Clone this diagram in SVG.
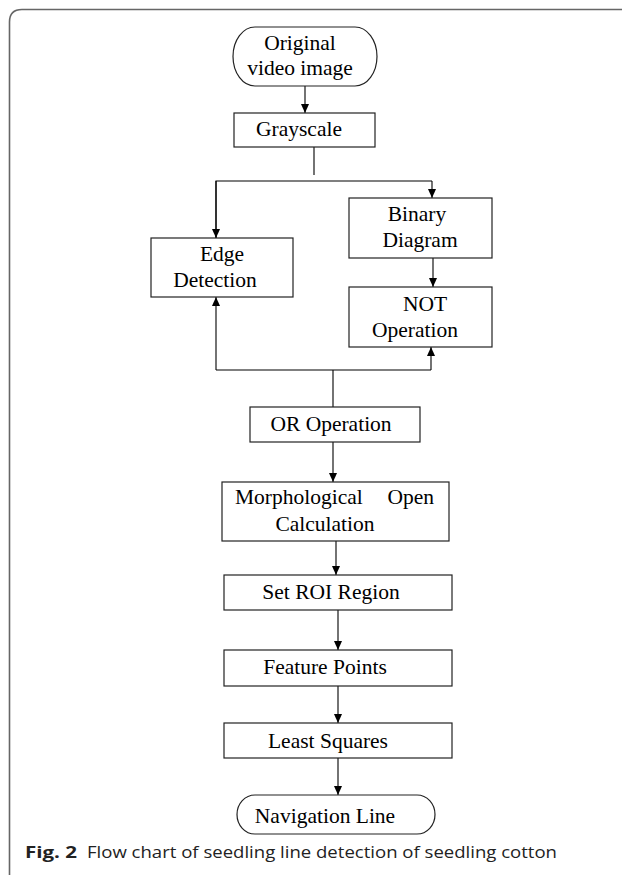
<svg xmlns="http://www.w3.org/2000/svg" width="622" height="875" viewBox="0 0 622 875">
<defs>
<marker id="ah" markerUnits="userSpaceOnUse" markerWidth="10" markerHeight="10" refX="9" refY="4" orient="auto">
<path d="M0,0 L9,4 L0,8 Z" fill="#000"/>
</marker>
<style>
.box{fill:#fff;stroke:#222;stroke-width:1.2}
.t{font-family:"Liberation Serif","Times New Roman",serif;font-size:21.5px;fill:#000;text-anchor:middle}
.c{fill:none;stroke:#000;stroke-width:1.1}
.a{marker-end:url(#ah)}
</style>
</defs>
<rect width="622" height="875" fill="#fff"/>
<path d="M622,9.5 L22,9.5 Q9.5,9.5 9.5,22 L9.5,875" fill="none" stroke="#666" stroke-width="1.6"/>

<g id="connectors">
<line class="c a" x1="305" y1="86" x2="305" y2="113"/>
<line class="c" x1="314" y1="147" x2="314" y2="175"/>
<polyline class="c" points="216,238 216,181 432,181"/>
<line class="c a" x1="216" y1="181" x2="216" y2="238"/>
<line class="c a" x1="432" y1="181" x2="432" y2="198"/>
<line class="c a" x1="433" y1="258" x2="433" y2="287"/>
<polyline class="c" points="333,407 333,370"/>
<line class="c" x1="216" y1="370" x2="431" y2="370"/>
<line class="c a" x1="216" y1="370" x2="216" y2="297"/>
<line class="c a" x1="431" y1="370" x2="431" y2="347"/>
<line class="c a" x1="333" y1="442" x2="333" y2="482"/>
<line class="c a" x1="336" y1="541" x2="336" y2="575"/>
<line class="c a" x1="338" y1="610" x2="338" y2="650"/>
<line class="c a" x1="338" y1="686" x2="338" y2="723"/>
<line class="c a" x1="338" y1="758" x2="338" y2="795"/>
</g>

<g id="original">
<rect class="box" x="233" y="27" width="144" height="59" rx="22" ry="29.5"/>
<text class="t" x="300" y="50">Original</text>
<text class="t" x="300" y="75">video image</text>
</g>
<g id="grayscale">
<rect class="box" x="234" y="113" width="141" height="34"/>
<text class="t" x="299" y="136">Grayscale</text>
</g>
<g id="edge">
<rect class="box" x="151" y="238" width="142" height="59"/>
<text class="t" x="222" y="261">Edge</text>
<text class="t" x="215" y="287">Detection</text>
</g>
<g id="binary">
<rect class="box" x="349" y="198" width="143" height="60"/>
<text class="t" x="417" y="221">Binary</text>
<text class="t" x="420" y="247">Diagram</text>
</g>
<g id="not">
<rect class="box" x="349" y="287" width="143" height="60"/>
<text class="t" x="425" y="311">NOT</text>
<text class="t" x="415" y="337">Operation</text>
</g>
<g id="or">
<rect class="box" x="250" y="407" width="170" height="35"/>
<text class="t" x="331" y="431">OR Operation</text>
</g>
<g id="morph">
<rect class="box" x="222" y="482" width="227" height="59"/>
<text class="t" x="235" y="504" style="text-anchor:start">Morphological</text>
<text class="t" x="434" y="504" style="text-anchor:end">Open</text>
<text class="t" x="325" y="531">Calculation</text>
</g>
<g id="roi">
<rect class="box" x="224" y="575" width="228" height="35"/>
<text class="t" x="331" y="599">Set ROI Region</text>
</g>
<g id="feature">
<rect class="box" x="224" y="650" width="228" height="36"/>
<text class="t" x="325" y="674">Feature Points</text>
</g>
<g id="least">
<rect class="box" x="224" y="723" width="228" height="35"/>
<text class="t" x="328" y="748">Least Squares</text>
</g>
<g id="navigation">
<rect class="box" x="237" y="795" width="198" height="39" rx="18" ry="19.5"/>
<text class="t" x="325" y="823">Navigation Line</text>
</g>

<g id="caption" style="font-family:'Open Sans','Noto Sans',sans-serif;font-size:16.5px;fill:#222">
<text x="25" y="858" style="font-weight:bold" textLength="52" lengthAdjust="spacingAndGlyphs">Fig. 2</text>
<text x="87" y="858" textLength="470" lengthAdjust="spacingAndGlyphs">Flow chart of seedling line detection of seedling cotton</text>
</g>
</svg>
